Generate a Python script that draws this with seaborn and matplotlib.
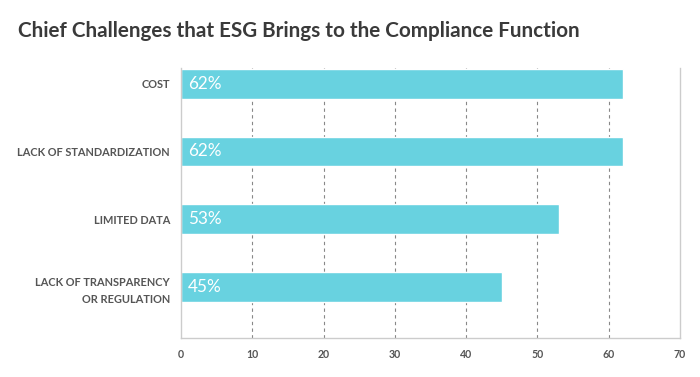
import pandas as pd
import seaborn as sns
import matplotlib.pyplot as plt

categories = ['COST', 'LACK OF STANDARDIZATION', 'LIMITED DATA',
              'LACK OF TRANSPARENCY\nOR REGULATION']
values = [62, 62, 53, 45]
labels = ['62%', '62%', '53%', '45%']
xticks = [0, 10, 20, 30, 40, 50, 60, 70]

df = pd.DataFrame({'challenge': categories, 'pct': values})

sns.set_theme(style='white')
plt.rcParams['font.family'] = ['Lato', 'DejaVu Sans']

fig = plt.figure(figsize=(7, 3.77), dpi=100)
ax = fig.add_axes([0.2586, 0.1034, 0.7128, 0.7162])

sns.barplot(data=df, x='pct', y='challenge', color='#68D2E0', saturation=1,
            width=0.44, ax=ax)

for i, txt in enumerate(labels):
    ax.text(1.0, i, txt, color='white', fontsize=12.3, va='center', ha='left')

ax.set_xlim(0, 70)
ax.set_ylim(3.75, -0.23)
ax.set_xticks(xticks)
ax.set_xlabel('')
ax.set_ylabel('')

for x in xticks[1:-1]:
    ax.axvline(x, color='#888888', linestyle=(0, (3, 3)), linewidth=0.8, zorder=0)

for side in ['left', 'bottom', 'right']:
    ax.spines[side].set_color('#cccccc')
    ax.spines[side].set_linewidth(1)
ax.spines['top'].set_visible(False)

ax.tick_params(axis='both', length=0, pad=8, colors='#555555')
for t in ax.get_yticklabels():
    t.set_fontsize(7.9)
    t.set_fontweight('bold')
    t.set_linespacing(1.7)
    t.set_multialignment('right')
for t in ax.get_xticklabels():
    t.set_fontsize(7.6)
    t.set_fontweight('bold')

fig.text(0.026, 0.918, 'Chief Challenges that ESG Brings to the Compliance Function',
         fontsize=14.9, fontweight='bold', color='#3a3a3a', va='center', ha='left')

fig.savefig('out.png', dpi=100)
